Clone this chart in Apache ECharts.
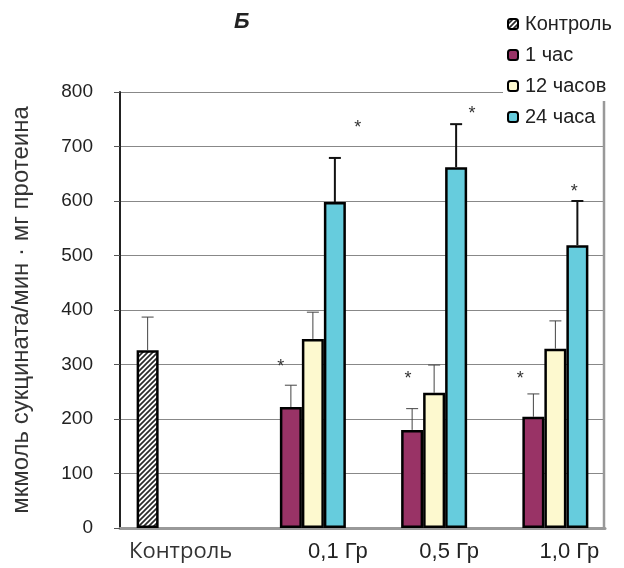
<!DOCTYPE html>
<html><head><meta charset="utf-8">
<script src="https://cdn.jsdelivr.net/npm/echarts@6/dist/echarts.min.js"></script>
<style>html,body{margin:0;padding:0;background:#fff}#c{width:624px;height:568px}</style>
</head><body><div id="c"></div>
<script>
const categories = ['Контроль', '0,1 Гр', '0,5 Гр', '1,0 Гр'];
const seriesNames = ['Контроль', '1 час', '12 часов', '24 часа'];
const valControl = [326, null, null, null];
const val1h = [null, 222, 180, 204];
const val12h = [null, 347, 248, 329];
const val24h = [null, 598, 662, 519];
const errControl = [61, null, null, null];
const err1h = [null, 40, 39, 42];
const err12h = [null, 49, 51, 51];
const err24h = [null, 81, 79, 81];
// significance marks: [category index, series index, value]
const starMarks = [[1, 1, 295], [1, 3, 733], [2, 1, 274], [2, 3, 760], [3, 1, 273], [3, 3, 616]];
const yTicks = [0, 100, 200, 300, 400, 500, 600, 700, 800];

const BAR_W = 22;
const starDx = {'1-1': -10, '1-3': 23, '2-1': -4, '2-3': 16, '3-1': -13, '3-3': -3};

// hatch pattern
const pc = document.createElement('canvas');
pc.width = 5; pc.height = 5;
const g = pc.getContext('2d');
g.fillStyle = '#fff'; g.fillRect(0, 0, 5, 5);
g.strokeStyle = '#2a2a2a'; g.lineWidth = 1.7;
g.beginPath();
g.moveTo(-1, 6); g.lineTo(6, -1);
g.moveTo(-1, 1); g.lineTo(1, -1);
g.moveTo(4, 6); g.lineTo(6, 4);
g.stroke();

const colors = [{image: pc, repeat: 'repeat'}, '#993366', '#FDF9CF', '#66CCDD'];
const allVals = [valControl, val1h, val12h, val24h];
const allErrs = [errControl, err1h, err12h, err24h];

const errData = [];
allVals.forEach((arr, s) => arr.forEach((v, i) => {
  if (v != null) errData.push([i, v, allErrs[s][i], s]);
}));

const chart = echarts.init(document.getElementById('c'));
const barSeries = allVals.map((arr, s) => ({
  name: seriesNames[s], type: 'bar', data: arr, barWidth: BAR_W, barGap: '0%',
  itemStyle: {color: colors[s], borderColor: '#000', borderWidth: 2.5},
  z: 2
}));

chart.setOption({
  animation: false,
  title: {text: 'Б', left: 229, top: 6, textStyle: {fontFamily: 'Liberation Sans', fontSize: 22, fontWeight: 'bold', fontStyle: 'italic', color: '#222'}},
  legend: {
    orient: 'vertical', left: 507, top: 14, itemWidth: 10, itemHeight: 10, itemGap: 11,
    padding: 0,
    data: seriesNames,
    itemStyle: {borderColor: '#000', borderWidth: 2},
    textStyle: {fontFamily: 'Liberation Sans', fontSize: 20, color: '#222', padding: [0, 0, 0, 2]}
  },
  grid: {left: 120, right: 19, top: 92, bottom: 40},
  xAxis: {
    type: 'category', data: categories,
    axisLine: {show: true, lineStyle: {color: '#999', width: 3}},
    axisTick: {show: false},
    axisLabel: {
      interval: 0, hideOverlap: false,
      margin: 13, color: '#222', fontSize: 22, fontFamily: 'Liberation Sans',
      formatter: (v, i) => '{c' + i + '|' + v + '}',
      rich: {
        c0: {fontFamily: 'Open Sans', fontSize: 22, color: '#333'},
        c1: {fontFamily: 'Liberation Sans', fontSize: 22, color: '#222', padding: [0, 0, 0, 72]},
        c2: {fontFamily: 'Liberation Sans', fontSize: 22, color: '#222', padding: [0, 0, 0, 52]},
        c3: {fontFamily: 'Liberation Sans', fontSize: 22, color: '#222', padding: [0, 0, 0, 50]}
      }
    },
    splitLine: {show: false}
  },
  yAxis: {
    type: 'value', min: yTicks[0], max: yTicks[yTicks.length - 1], interval: 100,
    name: 'мкмоль сукцината/мин · мг протеина', nameLocation: 'middle', nameRotate: 90, nameGap: 87,
    nameTextStyle: {fontFamily: 'Liberation Sans', fontSize: 24, color: '#333', padding: [0, 0, 0, 0]},
    axisLine: {show: true, lineStyle: {color: '#222', width: 2}},
    axisTick: {show: true, inside: false, length: 6, lineStyle: {color: '#555'}},
    axisLabel: {margin: 27, fontFamily: 'Liberation Sans', fontSize: 19, color: '#222'},
    splitLine: {show: true, lineStyle: {color: '#888', width: 1}}
  },
  graphic: [{
    type: 'rect', shape: {x: 503, y: 0, width: 121, height: 101},
    style: {fill: '#fff'}, z: 3
  }, {
    type: 'line', shape: {x1: 604, y1: 101, x2: 604, y2: 528},
    style: {stroke: '#999', lineWidth: 2.5}, z: 1
  }],
  series: barSeries.concat([{
    type: 'custom', name: 'err', data: errData, z: 3,
    renderItem: (params, api) => {
      const cat = api.value(0), v = api.value(1), e = api.value(2), s = api.value(3);
      const b = api.coord([cat, v]);
      const t = api.coord([cat, v + e]);
      const x = b[0] + (s - 1.5) * BAR_W;
      const w = s === 3 ? 2 : 1;
      const col = s === 3 ? '#111' : '#444';
      return {type: 'group', children: [
        {type: 'line', shape: {x1: x, y1: b[1], x2: x, y2: t[1]}, style: {stroke: col, lineWidth: w}},
        {type: 'line', shape: {x1: x - 6, y1: t[1], x2: x + 6, y2: t[1]}, style: {stroke: col, lineWidth: w}}
      ]};
    }
  }, {
    type: 'custom', name: 'stars', data: starMarks, z: 4,
    renderItem: (params, api) => {
      const cat = api.value(0), s = api.value(1), v = api.value(2);
      const p = api.coord([cat, v]);
      const x = p[0] + (s - 1.5) * BAR_W + starDx[cat + '-' + s];
      return {type: 'text', x: x, y: p[1], style: {text: '*', font: '18px "Liberation Sans"', fill: '#333', align: 'center', verticalAlign: 'middle'}};
    }
  }])
});
</script></body></html>
